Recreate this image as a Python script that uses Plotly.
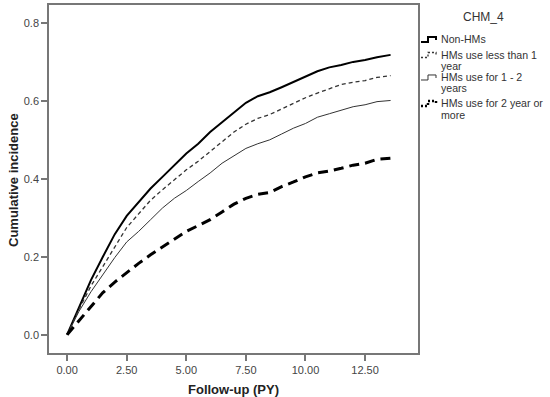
import plotly.graph_objects as go

t = [0, 0.5, 1, 1.5, 2, 2.5, 3, 3.5, 4, 4.5, 5, 5.5, 6, 6.5, 7, 7.5, 8, 8.5, 9, 9.5, 10, 10.5, 11, 11.5, 12, 12.5, 13, 13.57]
non_hms = [0, 0.07, 0.14, 0.2, 0.258, 0.305, 0.34, 0.375, 0.405, 0.435, 0.465, 0.49, 0.52, 0.545, 0.57, 0.595, 0.612, 0.622, 0.635, 0.648, 0.662, 0.676, 0.686, 0.692, 0.70, 0.705, 0.712, 0.718]
lt1 = [0, 0.065, 0.125, 0.175, 0.228, 0.275, 0.31, 0.345, 0.372, 0.398, 0.423, 0.445, 0.47, 0.495, 0.52, 0.54, 0.555, 0.565, 0.58, 0.595, 0.608, 0.62, 0.632, 0.642, 0.648, 0.652, 0.66, 0.665]
y1_2 = [0, 0.06, 0.11, 0.155, 0.198, 0.238, 0.265, 0.295, 0.325, 0.35, 0.37, 0.393, 0.415, 0.44, 0.46, 0.478, 0.49, 0.50, 0.515, 0.53, 0.542, 0.558, 0.567, 0.577, 0.585, 0.59, 0.598, 0.601]
ge2 = [0, 0.035, 0.072, 0.108, 0.135, 0.16, 0.183, 0.205, 0.225, 0.245, 0.265, 0.28, 0.295, 0.315, 0.335, 0.35, 0.36, 0.365, 0.38, 0.392, 0.405, 0.415, 0.42, 0.427, 0.435, 0.44, 0.45, 0.453]

legend_title = "CHM_4"
names = [["Non-HMs"], ["HMs use less than 1", "year"], ["HMs use for 1 - 2", "years"], ["HMs use for 2 year or", "more"]]
series = [non_hms, lt1, y1_2, ge2]
styles = [dict(color="black", width=2, dash="solid"),
          dict(color="#333333", width=1.3, dash="4px,3px"),
          dict(color="#333333", width=1, dash="solid"),
          dict(color="black", width=3, dash="10px,6px")]

W, H = 550, 397
L, R, T, B = 49, 418, 5, 353
pw, ph = R - L, B - T

def px(x):
    return (x - L) / pw

def py(y):
    return (B - y) / ph

fig = go.Figure()
for n, s, st in zip(names, series, styles):
    fig.add_trace(go.Scatter(x=t, y=s, mode="lines", name=" ".join(n), line=st, showlegend=False))

font_fam = "Liberation Sans, Arial"
axis_common = dict(showline=True, linecolor="#777777", linewidth=1.5, mirror=True,
                   ticks="outside", ticklen=6, tickcolor="#777777", tickwidth=1.5,
                   showgrid=False, zeroline=False,
                   tickfont=dict(family=font_fam, size=11, color="#444444"))

annotations = [
    dict(text="<b>Follow-up (PY)</b>", x=px(233.5), y=py(390), xref="paper", yref="paper",
         xanchor="center", yanchor="middle",
         showarrow=False, font=dict(family=font_fam, size=13, color="#222222")),
    dict(text="<b>Cumulative incidence</b>", x=px(13), y=py(180), xref="paper", yref="paper",
         xanchor="center", yanchor="middle",
         showarrow=False, textangle=-90, font=dict(family=font_fam, size=13, color="#222222")),
    dict(text=legend_title, x=px(483), y=py(17), xref="paper", yref="paper",
         xanchor="center", yanchor="middle",
         showarrow=False, font=dict(family=font_fam, size=12, color="#333333")),
]
shapes = []
item_y = [39, 54.5, 77, 103]
for n, st, y0 in zip(names, styles, item_y):
    for k, line in enumerate(n):
        annotations.append(dict(text=line, x=px(439), y=py(y0 + 11.5 * k), xref="paper", yref="paper",
                                xanchor="left", yanchor="middle", showarrow=False,
                                font=dict(family=font_fam, size=10.6, color="#333333")))
    path = "M {:.4f},{:.4f} L {:.4f},{:.4f} L {:.4f},{:.4f} L {:.4f},{:.4f} L {:.4f},{:.4f}".format(
        px(421), py(y0 + 3), px(428), py(y0 + 3), px(428), py(y0 - 2), px(436), py(y0 - 2), px(436), py(y0 + 1))
    shapes.append(dict(type="path", path=path, xref="paper", yref="paper",
                       line=dict(color=st["color"], width=min(st["width"], 2.5), dash=st["dash"] if st["dash"] == "solid" else "2px,2px")))

fig.update_layout(
    width=W, height=H,
    margin=dict(l=L, r=W - R, t=T, b=H - B, autoexpand=False),
    plot_bgcolor="white", paper_bgcolor="white",
    xaxis=dict(range=[-0.76, 14.72], tickvals=[0, 2.5, 5, 7.5, 10, 12.5], tickformat=".2f",
               automargin=False, **axis_common),
    yaxis=dict(range=[-0.047, 0.846], tickvals=[0, 0.2, 0.4, 0.6, 0.8], tickformat=".1f",
               automargin=False, **axis_common),
    annotations=annotations,
    shapes=shapes,
    showlegend=False,
)

fig.write_html("out.html", config={"displayModeBar": False},
               post_script="document.body.style.margin='0';")
